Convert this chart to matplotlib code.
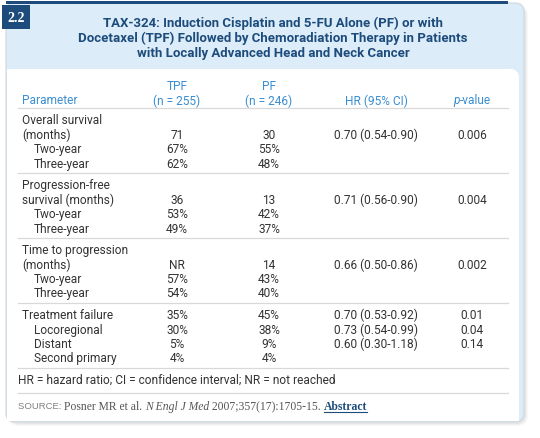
import matplotlib
matplotlib.use("Agg")
import matplotlib.pyplot as plt
from matplotlib.patches import FancyBboxPatch, Rectangle

# table data
title_lines = ["TAX-324: Induction Cisplatin and 5-FU Alone (PF) or with",
               "Docetaxel (TPF) Followed by Chemoradiation Therapy in Patients",
               "with Locally Advanced Head and Neck Cancer"]
col_heads = ["Parameter", "TPF\n(n = 255)", "PF\n(n = 246)", "HR (95% CI)", "p-value"]

sections = ["Overall survival\n(months)", "Progression-free\nsurvival (months)",
            "Time to progression\n(months)", "Treatment failure"]
tpf_main = ["71", "36", "NR", "35%"]
pf_main = ["30", "13", "14", "45%"]
hr_main = ["0.70 (0.54-0.90)", "0.71 (0.56-0.90)", "0.66 (0.50-0.86)", "0.70 (0.53-0.92)"]
p_main = ["0.006", "0.004", "0.002", "0.01"]

sub_labels = [["Two-year", "Three-year"], ["Two-year", "Three-year"],
              ["Two-year", "Three-year"], ["Locoregional", "Distant", "Second primary"]]
tpf_sub = [["67%", "62%"], ["53%", "49%"], ["57%", "54%"], ["30%", "5%", "4%"]]
pf_sub = [["55%", "48%"], ["42%", "37%"], ["43%", "40%"], ["38%", "9%", "4%"]]
hr_sub = [["", ""], ["", ""], ["", ""], ["0.73 (0.54-0.99)", "0.60 (0.30-1.18)", ""]]
p_sub = [["", ""], ["", ""], ["", ""], ["0.04", "0.14", ""]]

footnote = "HR = hazard ratio; CI = confidence interval; NR = not reached"

NAVY = "#1d4c7c"
BLUE = "#3a8ed2"
TXT = "#333333"
BEIGE = "#f4f4ea"
LINE = "#d9d9d9"
LIGHT = "#dcedf9"

BODY = ["Roboto", "Liberation Sans", "DejaVu Sans"]
SERIF = ["Liberation Serif", "DejaVu Serif"]
fs = 8.6

fig = plt.figure(figsize=(5.4, 4.39), dpi=100)
ax = fig.add_axes([0, 0, 1, 1])
ax.set_xlim(0, 540)
ax.set_ylim(439, 0)
ax.axis("off")
renderer = fig.canvas.get_renderer()

# card shadow
for i, a in enumerate([0.05, 0.07, 0.09]):
    ax.add_patch(FancyBboxPatch((8 + i, 6 + i), 520 - 2 * i, 421 - 2 * i,
                                boxstyle="round,pad=0,rounding_size=10",
                                fc="#888888", ec="none", alpha=a))
# card
ax.add_patch(FancyBboxPatch((6, 4), 518, 419, boxstyle="round,pad=0,rounding_size=9",
                            fc=LIGHT, ec="#cfd6dc", lw=0.8))
ax.add_patch(FancyBboxPatch((7, 70), 512, 352, boxstyle="round,pad=0,rounding_size=9",
                            fc="white", ec="none"))
ax.add_patch(Rectangle((7, 70), 20, 352, fc="white", ec="none"))
ax.add_patch(Rectangle((7, 400), 512, 22, fc="white", ec="none"))
ax.add_patch(Rectangle((6, 2), 502, 3, fc=NAVY, ec="none"))
ax.add_patch(Rectangle((2, 6), 28, 24, fc=NAVY, ec="none"))
ax.text(16, 18.5, "2.2", color="white", fontsize=10, fontweight="bold",
        family=SERIF, ha="center", va="center")

for i, t in enumerate(title_lines):
    ax.text(273, 23 + 15.2 * i, t, color=NAVY, fontsize=9.5, fontweight="bold",
            family=BODY, ha="center", va="center")

# column layout
xs = [22, 177, 269, 376, 472]
vlines = [131, 223, 316, 436]
x0, x1 = 18, 508

# header
ax.text(xs[0], 101, col_heads[0], color=BLUE, fontsize=fs, family=BODY, ha="left", va="center")
for j in (1, 2):
    top, bot = col_heads[j].split("\n")
    ax.text(xs[j], 87, top, color=BLUE, fontsize=fs, family=BODY, ha="center", va="center")
    ax.text(xs[j], 101, bot, color=BLUE, fontsize=fs, family=BODY, ha="center", va="center")
ax.text(xs[3], 101, col_heads[3], color=BLUE, fontsize=fs, family=BODY, ha="center", va="center")
# p-value with italic p
tp = ax.text(0, 101, col_heads[4][0], color=BLUE, fontsize=fs, family=BODY, style="italic",
             ha="left", va="center")
tr = ax.text(0, 101, col_heads[4][1:], color=BLUE, fontsize=fs, family=BODY, ha="left", va="center")
wp = tp.get_window_extent(renderer).width
wr = tr.get_window_extent(renderer).width
tp.set_x(xs[4] - (wp + wr) / 2)
tr.set_x(xs[4] - (wp + wr) / 2 + wp)

step = 14.4
y = 109
ax.plot([x0, x1], [y, y], color=LINE, lw=0.9)
for k, sec in enumerate(sections):
    lab = sec.split("\n")
    ry = y + 12
    ys_lab = [ry + step * m for m in range(len(lab))]
    main_y = ys_lab[-1]
    ax.add_patch(Rectangle((x0, y + 0.5), x1 - x0, main_y + 7 - y, fc=BEIGE, ec="none", zorder=0.5))
    for m, l in enumerate(lab):
        ax.text(xs[0], ys_lab[m], l, color=TXT, fontsize=fs, family=BODY, ha="left", va="center")
    for j, v in zip(range(1, 5), [tpf_main[k], pf_main[k], hr_main[k], p_main[k]]):
        ax.text(xs[j], main_y, v, color=TXT, fontsize=fs, family=BODY, ha="center", va="center")
    sy = main_y
    for n, sl in enumerate(sub_labels[k]):
        sy += step
        ax.text(xs[0] + 12, sy, sl, color=TXT, fontsize=fs, family=BODY, ha="left", va="center")
        for j, v in zip(range(1, 5), [tpf_sub[k][n], pf_sub[k][n], hr_sub[k][n], p_sub[k][n]]):
            ax.text(xs[j], sy, v, color=TXT, fontsize=fs, family=BODY, ha="center", va="center")
    y = sy + 9.7
    ax.plot([x0, x1], [y, y], color=LINE, lw=0.9)

for vx in vlines:
    ax.plot([vx, vx], [80, y], color=LINE, lw=0.9, zorder=0.6)

ax.text(x0, 380, footnote, color=TXT, fontsize=fs, family=BODY, ha="left", va="center")
ax.plot([x0, x1], [394, 394], color=LINE, lw=0.9)

# source line, drawn piece by piece
pieces = [("SOURCE: ", dict(family=["Liberation Sans", "DejaVu Sans"], fontsize=6.8, color="#808080")),
          ("Posner MR et al. ", dict(family=SERIF, fontsize=8.4, color="#555555")),
          ("N Engl J Med", dict(family=SERIF, fontsize=8.4, color="#555555", style="italic")),
          (" 2007;357(17):1705-15. ", dict(family=SERIF, fontsize=8.4, color="#555555")),
          ("Abstract", dict(family=SERIF, fontsize=8.4, color=NAVY, fontweight="bold"))]
cx = x0
for s, kw in pieces:
    t = ax.text(cx, 407, s, ha="left", va="center", **kw)
    w = t.get_window_extent(renderer).width
    if s == "Abstract":
        ax.plot([cx, cx + w], [412.8, 412.8], color=NAVY, lw=0.8)
    cx += w

fig.savefig("out.png", dpi=100)
